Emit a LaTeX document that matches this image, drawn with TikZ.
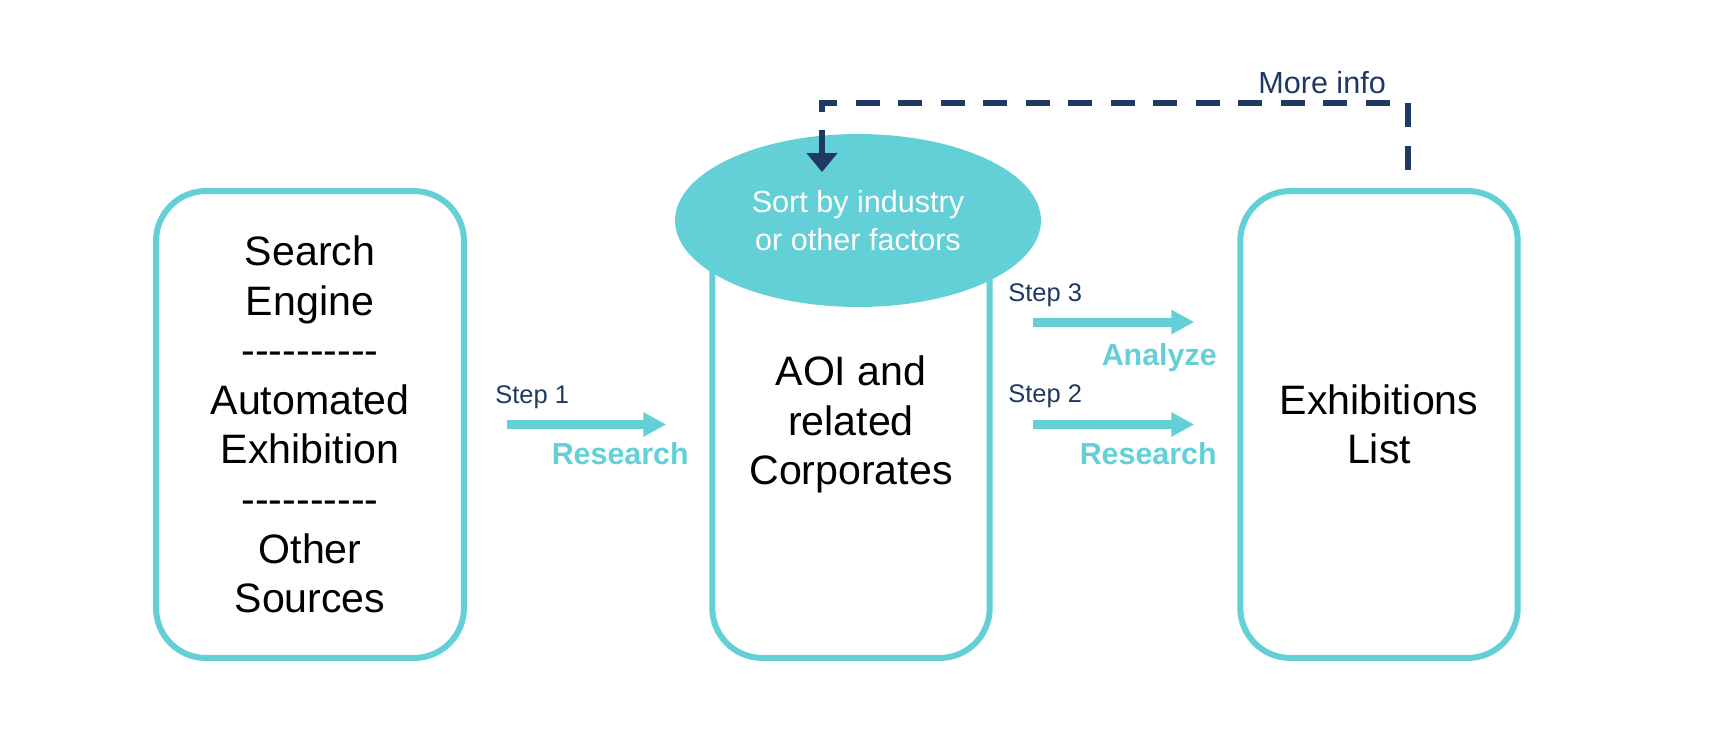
\documentclass[tikz,border=0pt]{standalone}
\usepackage{fontspec}
\setmainfont{Liberation Sans}
\usetikzlibrary{positioning,shapes.geometric,arrows.meta}

\definecolor{aqua}{HTML}{63CFD7}
\definecolor{navy}{HTML}{1F3864}
\newcommand{\sepdashes}{-\kern0pt-\kern0pt-\kern0pt-\kern0pt-\kern0pt-\kern0pt-\kern0pt-\kern0pt-\kern0pt-}

\begin{document}
\begin{tikzpicture}[x=0.02cm,y=-0.02cm,
		box/.style={draw=aqua,line width=0.12cm,rounded corners=1cm,minimum height=9.34cm,align=center,font=\fontsize{23.4}{28.2}\selectfont},
		blob/.style={ellipse,fill=aqua,inner sep=0pt,minimum width=7.32cm,minimum height=3.46cm,text=white,align=center,font=\fontsize{17.4}{21.6}\selectfont},
		flow/.style={draw=aqua,line width=0.18cm,-{Triangle[width=0.46cm,length=0.46cm]},shorten <=0.8cm,shorten >=0.86cm},
		info/.style={draw=navy,line width=0.12cm,dash pattern=on 0.48cm off 0.37cm,-{Triangle[width=0.6cm,length=0.38cm]}},
		steplbl/.style={text=navy,inner sep=0pt,anchor=base west,font=\fontsize{14.5}{17}\selectfont},
		actlbl/.style={text=aqua,inner sep=0pt,anchor=base east,font=\bfseries\fontsize{17.3}{20}\selectfont}]
		\useasboundingbox (0,0) rectangle (1710,748);

		\node[box,minimum width=6.16cm]	(src)	at (310,424.5)	{Search\\Engine\\\sepdashes\\Automated\\Exhibition\\\sepdashes\\Other\\Sources};
		\node[box,minimum width=5.55cm]	(aoi)	at (851,424.5)	{AOI and\\related\\Corporates};
		\node[box,minimum width=5.55cm]	(exh)	at (1379,424.5)	{Exhibitions\\List};
		\node[blob]						(sort)	at (858,220.5)	{Sort by industry\\or other factors};

		% steps
		\draw[flow] (src.east) -- (aoi.west);
		\draw[flow] (aoi.east) -- (exh.west);
		\draw[flow] ([yshift=2.05cm]aoi.east) -- ([yshift=2.05cm]exh.west);

		\node[steplbl]	(s1)	at (495,403)	{Step 1};
		\node[actlbl]	(a1)	at (689,464)	{Research};
		\node[steplbl]	(s3)	at (1008,301)	{Step 3};
		\node[actlbl]	(a3)	at (1217,365)	{Analyze};
		\node[steplbl]	(s2)	at (1008,402)	{Step 2};
		\node[actlbl]	(a2)	at (1217,464)	{Research};

		% feedback
		\draw[info] ([xshift=0.58cm,yshift=0.37cm]exh.north) |- ([xshift=-0.72cm,yshift=2.35cm]sort.center) -- ([xshift=-0.72cm,yshift=0.97cm]sort.center);
		\node[steplbl,font=\fontsize{17.4}{20}\selectfont]	(more)	at (1258,93)	{More info};
	\end{tikzpicture}
\end{document}
